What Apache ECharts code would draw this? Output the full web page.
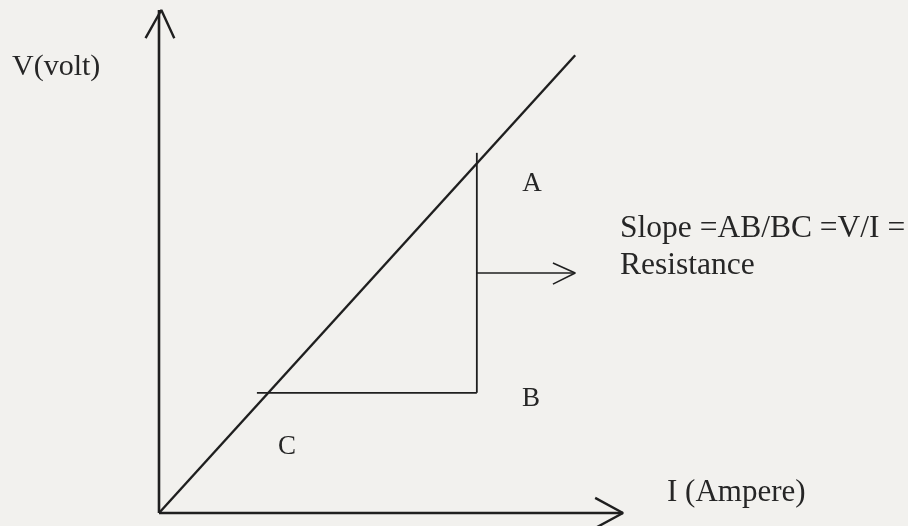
<!DOCTYPE html>
<html>
<head>
<meta charset="utf-8">
<script src="https://cdn.jsdelivr.net/npm/echarts@6/dist/echarts.min.js"></script>
<style>
  html, body { margin: 0; padding: 0; background: #f2f1ee; }
  #main { width: 908px; height: 526px; }
</style>
</head>
<body>
<div id="main"></div>
<script>
    // V-I graph of an ohmic conductor, axes run 0..10 in arbitrary units
    let ohmLine = [[0, 0], [8.97, 9.1]];
    let riseAB = [[6.85, 7.16], [6.85, 2.39]];
    let runBC = [[2.11, 2.39], [6.85, 2.39]];
    let pointer = [[6.85, 4.77], [8.97, 4.77]];
    let pointerHead = [[8.49, 4.97], [8.97, 4.77], [8.49, 4.55]];
    let xAxisLine = [[0, 0], [10, 0]];
    let yAxisLine = [[0, 0], [0, 10]];
    let xHead = [[9.4, 0.3], [10, 0], [9.4, -0.3]];
    let yHead = [[-0.29, 9.44], [0.05, 10], [0.33, 9.44]];

    let ink = '#1f1f1f';
    let font = '"Liberation Serif", "DejaVu Serif", serif';

    function seg(data, width) {
        return {
            type: 'line',
            data: data,
            symbol: 'none',
            clip: false,
            silent: true,
            lineStyle: {color: ink, width: width}
        };
    }

    function label(text, x, y, size, align) {
        return {
            type: 'text',
            x: x,
            y: y,
            style: {
                text: text,
                font: size + 'px ' + font,
                fill: '#262626',
                textAlign: align || 'left',
                textVerticalAlign: 'middle'
            }
        };
    }

    let myChart = echarts.init(document.getElementById('main'));
    myChart.setOption({
        backgroundColor: '#f2f1ee',
        animation: false,
        // x starts at -1 so the y arrowhead has room left of the origin
        grid: {left: 112.6, right: 285, top: 10, bottom: 13},
        xAxis: {
            type: 'value', min: -1, max: 10,
            axisLine: {show: false},
            axisTick: {show: false}, axisLabel: {show: false}, splitLine: {show: false}
        },
        yAxis: {
            type: 'value', min: 0, max: 10,
            axisLine: {show: false},
            axisTick: {show: false}, axisLabel: {show: false}, splitLine: {show: false}
        },
        series: [
            seg(xAxisLine, 2.6),
            seg(yAxisLine, 2.6),
            seg(ohmLine, 2.4),
            seg(riseAB, 1.8),
            seg(runBC, 1.8),
            seg(pointer, 1.6),
            seg(pointerHead, 1.6),
            seg(xHead, 2.4),
            seg(yHead, 2.4)
        ],
        graphic: [
            label('V(volt)', 12, 67, 30),
            label('A', 532, 184, 27, 'center'),
            label('B', 531, 399, 27, 'center'),
            label('C', 287, 447, 27, 'center'),
            label('Slope =AB/BC =V/I =', 620, 229, 31.5),
            label('Resistance', 620, 266, 31.5),
            label('I (Ampere)', 667, 493, 31)
        ]
    });
</script>
</body>
</html>
